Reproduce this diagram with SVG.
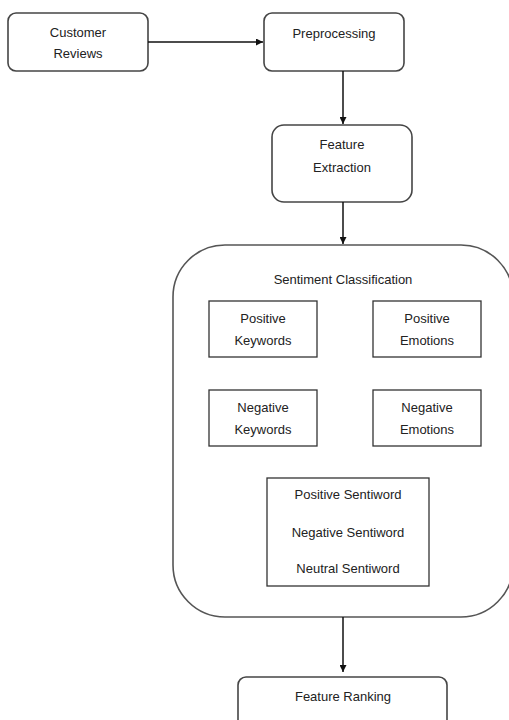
<svg xmlns="http://www.w3.org/2000/svg" width="509" height="720" viewBox="0 0 509 720">
<style>
.box{fill:#fff;stroke:#454545;stroke-width:1.6}
.inner{fill:#fff;stroke:#333;stroke-width:1.3}
.big{fill:#fff;stroke:#555;stroke-width:1.6}
text{font-family:"Liberation Sans",Arial,sans-serif;font-size:13px;fill:#222;text-anchor:middle;dominant-baseline:central}
.conn{stroke:#111;stroke-width:1.5;fill:none;marker-end:url(#arr)}
</style>
<defs>
<marker id="arr" viewBox="0 0 10 10" refX="10" refY="5" markerWidth="7" markerHeight="7" markerUnits="userSpaceOnUse" orient="auto">
<path d="M0,0 L10,5 L0,10 z" fill="#111"/>
</marker>
</defs>
<rect width="509" height="720" fill="#fff"/>
<g id="customer-reviews">
<rect class="box" x="8" y="13" width="140" height="58" rx="8"/>
<text x="78" y="32">Customer</text>
<text x="78" y="53">Reviews</text>
</g>
<g id="preprocessing">
<rect class="box" x="264" y="13" width="140" height="58" rx="8"/>
<text x="334" y="33">Preprocessing</text>
</g>
<g id="feature-extraction">
<rect class="box" x="272" y="125" width="140" height="77" rx="12"/>
<text x="342" y="144">Feature</text>
<text x="342" y="167">Extraction</text>
</g>
<g id="sentiment-classification">
<rect class="big" x="173" y="245" width="340" height="372" rx="52"/>
<text x="343" y="279">Sentiment Classification</text>
</g>
<g id="positive-keywords">
<rect class="inner" x="209" y="301" width="108" height="56"/>
<text x="263" y="318">Positive</text>
<text x="263" y="340">Keywords</text>
</g>
<g id="positive-emotions">
<rect class="inner" x="373" y="301" width="108" height="56"/>
<text x="427" y="318">Positive</text>
<text x="427" y="340">Emotions</text>
</g>
<g id="negative-keywords">
<rect class="inner" x="209" y="390" width="108" height="56"/>
<text x="263" y="407">Negative</text>
<text x="263" y="429">Keywords</text>
</g>
<g id="negative-emotions">
<rect class="inner" x="373" y="390" width="108" height="56"/>
<text x="427" y="407">Negative</text>
<text x="427" y="429">Emotions</text>
</g>
<g id="sentiwords">
<rect class="inner" x="267" y="478" width="162" height="108"/>
<text x="348" y="494">Positive Sentiword</text>
<text x="348" y="532">Negative Sentiword</text>
<text x="348" y="568">Neutral Sentiword</text>
</g>
<g id="feature-ranking">
<rect class="box" x="238" y="677" width="209" height="60" rx="8"/>
<text x="343" y="696">Feature Ranking</text>
</g>
<g id="connectors">
<line class="conn" x1="148" y1="42" x2="263" y2="42"/>
<line class="conn" x1="343" y1="71" x2="343" y2="124"/>
<line class="conn" x1="343" y1="202" x2="343" y2="244"/>
<line class="conn" x1="343" y1="617" x2="343" y2="672"/>
</g>
</svg>
